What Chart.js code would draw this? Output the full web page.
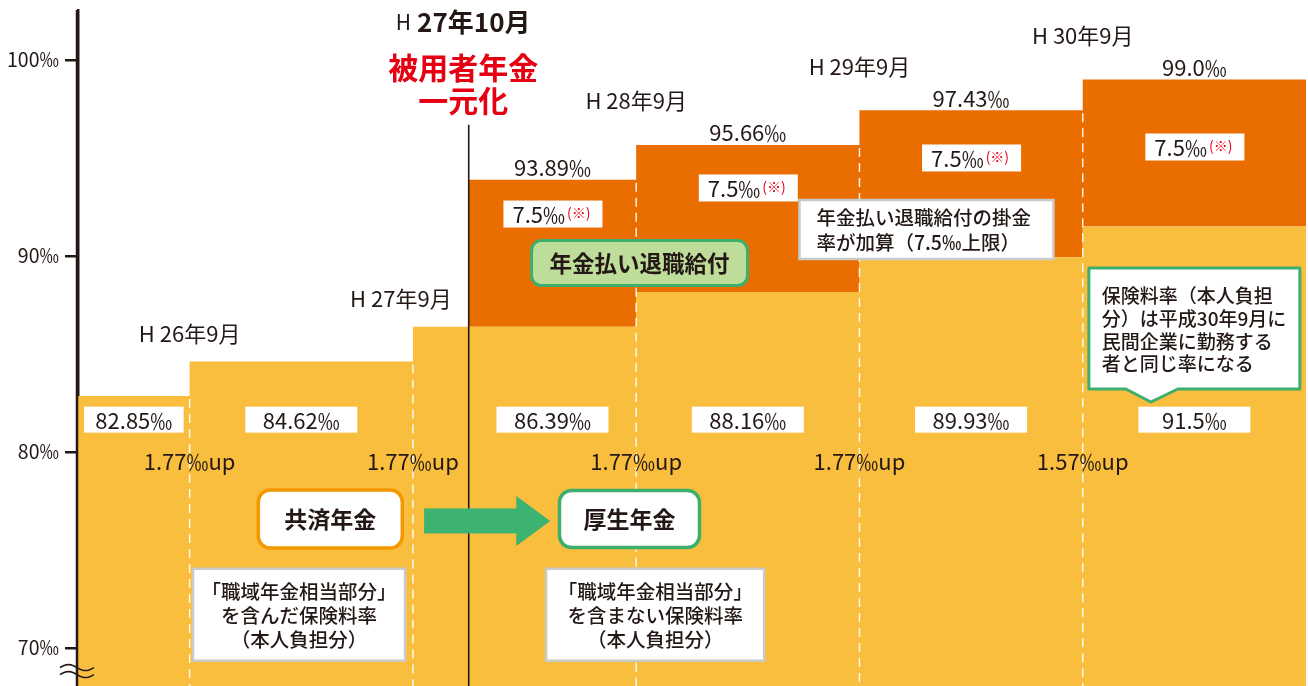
<!DOCTYPE html>
<html lang="ja">
<head>
<meta charset="utf-8">
<script src="https://cdn.jsdelivr.net/npm/chart.js@4.4.1/dist/chart.umd.min.js"></script>
<style>
  html, body { margin: 0; padding: 0; background: #fff; }
</style>
</head>
<body>
<canvas id="rateChart" width="1308" height="686"></canvas>
<script>
// periods (x axis is in half-year-ish slots, only used for layout of the steps)
const periods = [null, "H26年9月", "H27年9月", "H27年10月", "H28年9月", "H29年9月", "H30年9月"];
const periodStart = [0, 1, 3, 3.5, 5, 7, 9];
const periodEnd = 11;
// 保険料率 (本人負担分) ‰
const baseRate = [82.85, 84.62, 86.39, 86.39, 88.16, 89.93, 91.5];
// 年金払い退職給付 ‰
const pensionAdd = [0, 0, 0, 7.5, 7.5, 7.5, 7.5];
const yTicks = [70, 80, 90, 100];

const totalRate = baseRate.map((v, i) => Math.round((v + pensionAdd[i]) * 100) / 100);

const C_TEXT = "#231815";
const C_YELLOW = "#F9BE3E";
const C_ORANGE = "#EA6D00";
const C_GREEN = "#3DAF6D";
const C_RED = "#E60012";
const FONT = '"Noto Sans CJK JP", "Noto Sans", sans-serif';

const fmt = v => (Math.round(v * 100) % 10 === 0 ? v.toFixed(1) : v.toFixed(2)) + "‰";

function stepPoints(values) {
  const pts = periodStart.map((x, i) => ({ x: x, y: values[i] }));
  pts.push({ x: periodEnd, y: values[values.length - 1] });
  return pts;
}

function txt(ctx, s, x, y, size, color, weight, align) {
  ctx.font = (weight || "normal") + " " + size + "px " + FONT;
  ctx.fillStyle = color;
  ctx.textAlign = align || "center";
  ctx.textBaseline = "middle";
  ctx.fillText(s, x, y);
  return ctx.measureText(s).width;
}

function box(ctx, cx, cy, w, h, r, fill, stroke, lw) {
  ctx.beginPath();
  ctx.roundRect(cx - w / 2, cy - h / 2, w, h, r);
  ctx.fillStyle = fill;
  ctx.fill();
  if (stroke) {
    ctx.lineWidth = lw;
    ctx.strokeStyle = stroke;
    ctx.stroke();
  }
}

// layout of the "7.5‰(※)" boxes inside each orange block (y in ‰)
const addBoxY = [92.14, 93.47, 95.0, 95.56];

const annotations = {
  id: "annotations",
  afterDatasetsDraw(chart) {
    const { ctx, chartArea: area, scales: { x: xs, y: ys } } = chart;
    const X = v => xs.getPixelForValue(v);
    const Y = v => ys.getPixelForValue(v);
    ctx.save();

    // white dashed separators where the rate goes up
    ctx.strokeStyle = "rgba(255,255,255,0.9)";
    ctx.lineWidth = 1.5;
    ctx.setLineDash([9, 6]);
    for (let i = 1; i < baseRate.length; i++) {
      if (baseRate[i] === baseRate[i - 1]) continue;
      const x = X(periodStart[i]);
      ctx.beginPath();
      ctx.moveTo(x, Y(Math.min(totalRate[i - 1], totalRate[i])) + 3);
      ctx.lineTo(x, area.bottom);
      ctx.stroke();
    }
    ctx.setLineDash([]);

    // y axis line on top of fills
    ctx.strokeStyle = C_TEXT;
    ctx.lineWidth = 2.5;
    ctx.beginPath();
    ctx.moveTo(area.left - 1, area.top);
    ctx.lineTo(area.left - 1, area.bottom);
    ctx.stroke();

    // 一元化 line
    ctx.lineWidth = 1.6;
    ctx.beginPath();
    ctx.moveTo(X(3.5), Y(96.7));
    ctx.lineTo(X(3.5), area.bottom);
    ctx.stroke();

    // axis break mark
    ctx.lineWidth = 1.6;
    for (const dy of [0, 7]) {
      ctx.beginPath();
      for (let t = 0; t <= 34; t++) {
        const x = area.left - 18 + t;
        const y = Y(69.0) + dy + Math.sin(t / 34 * Math.PI * 2 + Math.PI) * 3;
        t === 0 ? ctx.moveTo(x, y) : ctx.lineTo(x, y);
      }
      ctx.stroke();
    }

    // lower value boxes
    for (let i = 0; i < baseRate.length; i++) {
      const end = i + 1 < periodStart.length ? periodStart[i + 1] : periodEnd;
      const w = X(end) - X(periodStart[i]);
      if (w < 100) continue;
      const cx = (X(periodStart[i]) + X(end)) / 2;
      const bw = Math.min(112, w - 12);
      ctx.fillStyle = "#fff";
      ctx.fillRect(cx - bw / 2, Y(81.65) - 13, bw, 26);
      txt(ctx, fmt(baseRate[i]), cx, Y(81.65) + 1, 22, C_TEXT);
    }

    // step-up labels
    for (let i = 1; i < baseRate.length; i++) {
      if (baseRate[i] === baseRate[i - 1]) continue;
      txt(ctx, (baseRate[i] - baseRate[i - 1]).toFixed(2) + "‰up", X(periodStart[i]), Y(79.49), 22, C_TEXT);
    }

    // orange block labels
    let k = 0;
    for (let i = 0; i < baseRate.length; i++) {
      if (!pensionAdd[i]) continue;
      const end = i + 1 < periodStart.length ? periodStart[i + 1] : periodEnd;
      const cx = (X(periodStart[i]) + X(end)) / 2;
      txt(ctx, fmt(totalRate[i]), cx, Y(totalRate[i]) - 12, 22, C_TEXT);
      const by = Y(addBoxY[k++]);
      ctx.fillStyle = "#fff";
      ctx.fillRect(cx - 49, by - 13.5, 99, 27);
      const w = txt(ctx, pensionAdd[i].toFixed(1) + "‰", cx - 40, by + 1, 22, C_TEXT, "normal", "left");
      txt(ctx, "(※)", cx - 40 + w + 2, by - 1, 14, C_RED, "normal", "left");
    }

    // period labels
    for (let i = 1; i < periods.length; i++) {
      if (!periods[i]) continue;
      if (i === 3) {
        const cx = X(3.45);
        ctx.font = "normal 21px " + FONT;
        const wH = ctx.measureText("H").width + 6;
        ctx.font = "bold 26px " + FONT;
        const wR = ctx.measureText("27年10月").width;
        const left = cx - (wH + wR) / 2;
        txt(ctx, "H", left, Y(101.94), 21, C_TEXT, "normal", "left");
        txt(ctx, "27年10月", left + wH, Y(101.94), 26, C_TEXT, "bold", "left");
        txt(ctx, "被用者年金", cx, Y(99.59), 30, C_RED, "bold");
        txt(ctx, "一元化", cx, Y(97.91), 30, C_RED, "bold");
        continue;
      }
      const dx = i === 2 ? -12 : 0;
      const y = Y(totalRate[i]) - (pensionAdd[i] ? 44 : 28);
      txt(ctx, periods[i].replace("H", "H "), X(periodStart[i]) + dx, y, 22, C_TEXT);
    }

    // 年金払い退職給付 tag
    box(ctx, X(5.03), Y(89.64), 216, 45, 10, "#BEDC9A", C_GREEN, 3);
    txt(ctx, "年金払い退職給付", X(5.03), Y(89.64), 22.5, C_TEXT, "bold");

    // note box
    const nx = X(7.6) - 127, ny = Y(91.35) - 29.5;
    ctx.fillStyle = "#fff";
    ctx.fillRect(nx, ny, 254, 59);
    ctx.strokeStyle = "#C9CACA";
    ctx.lineWidth = 2.5;
    ctx.strokeRect(nx, ny, 254, 59);
    txt(ctx, "年金払い退職給付の掛金", nx + 17, ny + 18, 19.5, C_TEXT, "500", "left");
    txt(ctx, "率が加算（7.5‰上限）", nx + 17, ny + 43, 19.5, C_TEXT, "500", "left");

    // callout
    const cx0 = X(10.0) - 105.5, cy0 = Y(86.3) - 60.5, cw = 211, ch = 121;
    ctx.beginPath();
    ctx.moveTo(cx0, cy0);
    ctx.lineTo(cx0 + cw, cy0);
    ctx.lineTo(cx0 + cw, cy0 + ch);
    ctx.lineTo(cx0 + 89, cy0 + ch);
    ctx.lineTo(cx0 + 62, cy0 + ch + 13);
    ctx.lineTo(cx0 + 37, cy0 + ch);
    ctx.lineTo(cx0, cy0 + ch);
    ctx.closePath();
    ctx.fillStyle = "#fff";
    ctx.fill();
    ctx.strokeStyle = C_GREEN;
    ctx.lineWidth = 3;
    ctx.lineJoin = "round";
    ctx.stroke();
    ["保険料率（本人負担", "分）は平成30年9月に", "民間企業に勤務する", "者と同じ率になる"].forEach((s, j) => {
      txt(ctx, s, cx0 + 13, cy0 + 28 + j * 22.7, 19, C_TEXT, "500", "left");
    });

    // 共済年金 -> 厚生年金
    box(ctx, X(2.26), Y(76.58), 144, 58, 12, "#fff", "#F39800", 3.5);
    txt(ctx, "共済年金", X(2.26), Y(76.58), 23, C_TEXT, "bold");
    const ax0 = X(3.1), ax1 = X(4.23), ay = Y(76.48);
    ctx.fillStyle = "#3CB371";
    ctx.fillRect(ax0, ay - 12.5, ax1 - 33 - ax0, 25);
    ctx.beginPath();
    ctx.moveTo(ax1 - 34, ay - 25);
    ctx.lineTo(ax1, ay);
    ctx.lineTo(ax1 - 34, ay + 25);
    ctx.closePath();
    ctx.fill();
    box(ctx, X(4.94), Y(76.58), 140, 57, 12, "#fff", C_GREEN, 3.5);
    txt(ctx, "厚生年金", X(4.94), Y(76.58), 23, C_TEXT, "bold");

    // explanation boxes
    const notes = [
      { x: 1.98, lines: ["「職域年金相当部分」", "を含んだ保険料率", "（本人負担分）"], w: 212 },
      { x: 5.17, lines: ["「職域年金相当部分」", "を含まない保険料率", "（本人負担分）"], w: 218 }
    ];
    for (const n of notes) {
      const cx = X(n.x), cy = Y(71.7);
      ctx.fillStyle = "#fff";
      ctx.fillRect(cx - n.w / 2, cy - 46, n.w, 92);
      ctx.strokeStyle = "#C9CACA";
      ctx.lineWidth = 2.5;
      ctx.strokeRect(cx - n.w / 2, cy - 46, n.w, 92);
      n.lines.forEach((s, j) => txt(ctx, s, cx, cy - 23 + j * 24, 19.5, C_TEXT, "500"));
    }

    ctx.restore();
  }
};

new Chart(document.getElementById("rateChart"), {
  type: "line",
  data: {
    datasets: [
      {
        label: "保険料率",
        data: stepPoints(baseRate),
        stepped: "before",
        fill: "start",
        backgroundColor: C_YELLOW,
        borderColor: "rgba(0,0,0,0)",
        borderWidth: 0
      },
      {
        label: "年金払い退職給付",
        data: stepPoints(totalRate),
        stepped: "before",
        fill: "-1",
        backgroundColor: C_ORANGE,
        borderColor: "rgba(0,0,0,0)",
        borderWidth: 0
      }
    ]
  },
  options: {
    responsive: false,
    animation: false,
    layout: { padding: { top: 10, right: 2, bottom: 0, left: 0 } },
    plugins: { legend: { display: false }, tooltip: { enabled: false } },
    elements: { point: { radius: 0 }, line: { tension: 0 } },
    scales: {
      x: { type: "linear", min: 0, max: periodEnd, display: false },
      y: {
        min: 68.06,
        max: 102.55,
        afterBuildTicks: s => { s.ticks = yTicks.map(v => ({ value: v })); },
        afterFit: s => { s.width = 78; s.paddingTop = 0; s.paddingBottom = 0; },
        ticks: {
          callback: v => v + "‰",
          color: C_TEXT,
          font: { family: FONT, size: 19.5 },
          padding: 6
        },
        grid: { drawOnChartArea: false, drawTicks: true, tickLength: 13, color: C_TEXT, lineWidth: 2.5 },
        border: { display: true, color: C_TEXT, width: 2.5 }
      }
    }
  },
  plugins: [annotations]
});
</script>
</body>
</html>
